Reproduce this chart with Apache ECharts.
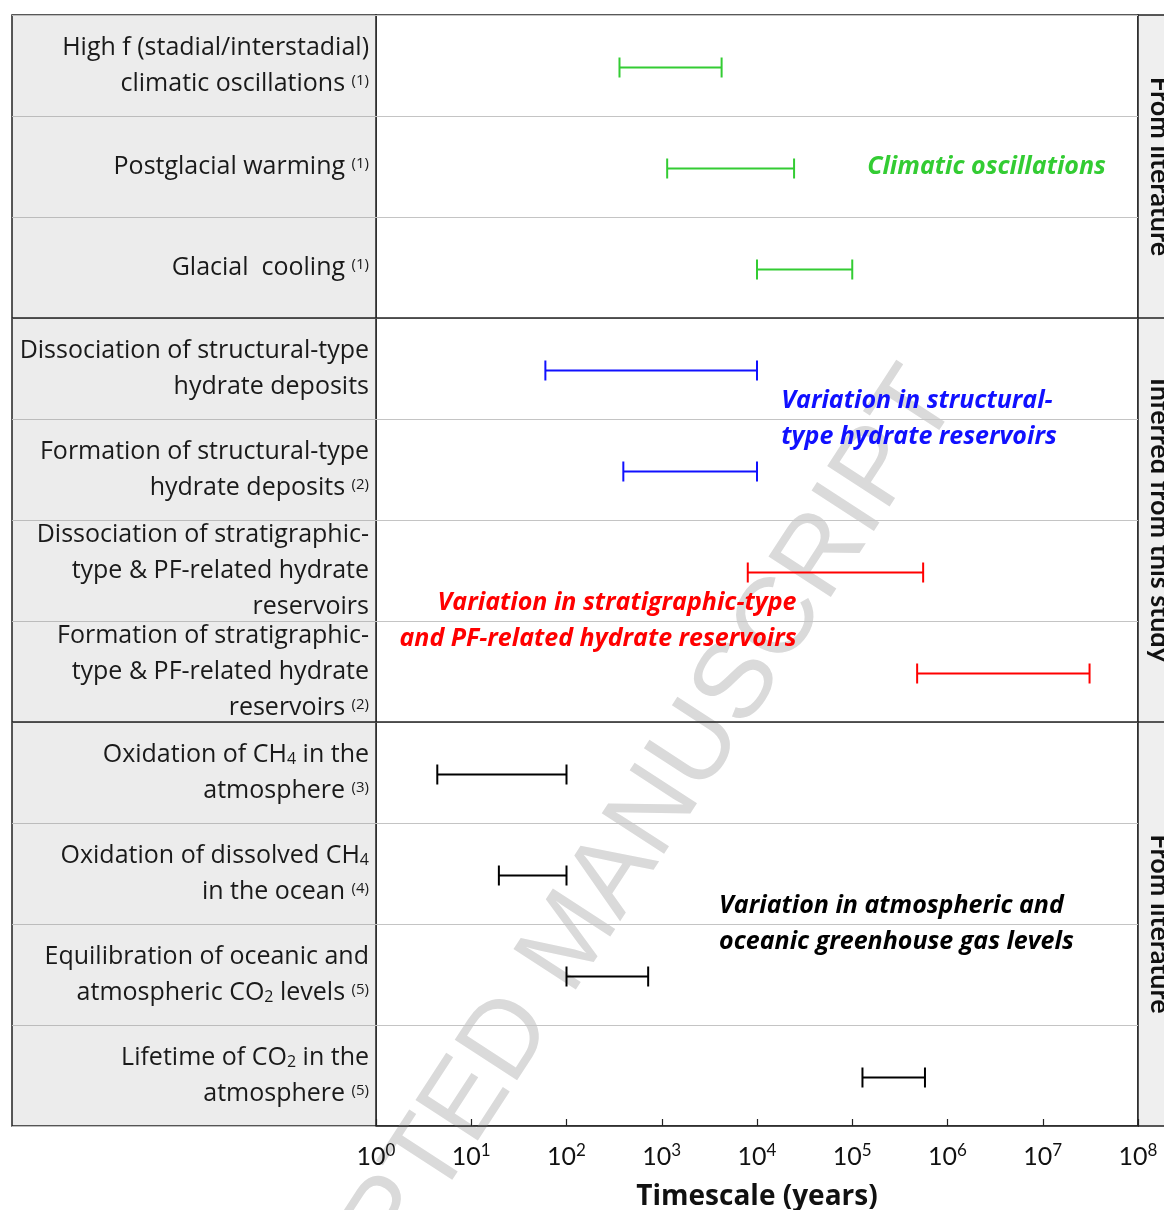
<!DOCTYPE html>
<html lang="en">
<head>
<meta charset="UTF-8">
<title>Timescales</title>
<script src="https://cdn.jsdelivr.net/npm/echarts@6/dist/echarts.min.js"></script>
<style>
  html, body { margin: 0; padding: 0; background: #fff; }
  #main { width: 1164px; height: 1210px; }
</style>
</head>
<body>
<div id="main"></div>
<script>
// rows (top to bottom)
var rowLabels = [
  'High f (stadial/interstadial)\nclimatic oscillations {sup|(1)}',
  'Postglacial warming {sup|(1)}',
  'Glacial  cooling {sup|(1)}',
  'Dissociation of structural-type\nhydrate deposits',
  'Formation of structural-type\nhydrate deposits {sup|(2)}',
  'Dissociation of stratigraphic-\ntype & PF-related hydrate\nreservoirs',
  'Formation of stratigraphic-\ntype & PF-related hydrate\nreservoirs {sup|(2)}',
  'Oxidation of CH{sub|4} in the\natmosphere {sup|(3)}',
  'Oxidation of dissolved CH{sub|4}\nin the ocean {sup|(4)}',
  'Equilibration of oceanic and\natmospheric CO{sub|2} levels {sup|(5)}',
  'Lifetime of CO{sub|2} in the\natmosphere {sup|(5)}'
];
// timescale ranges in years
var lowYears  = [360, 1140, 10000, 60, 395, 8000, 480000, 4.4, 19.5, 100, 128000];
var highYears = [4250, 24500, 100000, 10000, 10000, 555000, 31000000, 100, 100, 720, 580000];
var barColors = ['#33cc33', '#33cc33', '#33cc33', '#1010ff', '#1010ff', '#ff0000', '#ff0000',
                 '#000000', '#000000', '#000000', '#000000'];

// side band groups
var groupNames = ['From literature', 'Inferred from this study', 'From literature'];
var groupStart = [0, 3, 7];
var groupEnd   = [2, 6, 10];

// annotations
var noteText = ['Climatic oscillations',
                'Variation in structural-\ntype hydrate reservoirs',
                'Variation in stratigraphic-type\nand PF-related hydrate reservoirs',
                'Variation in atmospheric and\noceanic greenhouse gas levels'];
var noteYears = [4.6e7, 1.8e4, 2.6e4, 4000];
var noteRow   = [1, 3.5, 5.5, 8.5];
var noteAlign = ['right', 'left', 'right', 'left'];
var noteColor = ['#33cc33', '#1010ff', '#ff0000', '#000000'];

var FONT = '"Open Sans", Lato, sans-serif';
var TICKFONT = 'Lato, "Open Sans", sans-serif';
var PANEL_LEFT = 12, PANEL_W = 364, BAND_W = 40;

var chart = echarts.init(document.getElementById('main'));

function rowY(api, r) {
  var a = Math.floor(r), b = Math.ceil(r);
  var ya = api.coord([1, a])[1], yb = api.coord([1, b])[1];
  return ya + (yb - ya) * (r - a);
}

var option = {
  animation: false,
  backgroundColor: '#fff',
  grid: [
    { left: 376, right: 26, top: 15, bottom: 84, show: true, backgroundColor: '#fff',
      borderColor: '#222', borderWidth: 1.5, outerBoundsMode: 'none', containLabel: false },
    { left: PANEL_LEFT, width: PANEL_W, top: 15, bottom: 84, show: true, backgroundColor: '#ececec',
      borderColor: '#222', borderWidth: 1.5, outerBoundsMode: 'none' },
    { left: 1138, width: BAND_W, top: 15, bottom: 84, show: true, backgroundColor: '#efefef',
      borderColor: '#222', borderWidth: 1.5, outerBoundsMode: 'none' }
  ],
  xAxis: [
    { type: 'log', logBase: 10, min: 1, max: 1e8, gridIndex: 0, splitNumber: 8, z: 3,
      axisLine: { show: true, lineStyle: { color: '#222', width: 1.5 } },
      axisTick: { show: true, inside: true, length: 7, lineStyle: { color: '#222', width: 1.2 } },
      minorTick: { show: false },
      splitLine: { show: false },
      axisLabel: {
        margin: 16, fontFamily: TICKFONT, fontSize: 25, color: '#111', lineHeight: 30,
        formatter: function (v) { return '10{sup|' + Math.round(Math.log10(v)) + '}'; },
        rich: { sup: { fontFamily: TICKFONT, fontSize: 17, color: '#111', verticalAlign: 'top', lineHeight: 18 } }
      },
      name: 'Timescale (years)', nameLocation: 'middle', nameGap: 57,
      nameTextStyle: { fontFamily: FONT, fontSize: 28, fontWeight: 'bold', color: '#111' }
    },
    { type: 'value', gridIndex: 1, show: false, min: 0, max: 1 },
    { type: 'value', gridIndex: 2, show: false, min: 0, max: 1 }
  ],
  yAxis: [
    { type: 'category', gridIndex: 0, data: rowLabels, inverse: true, z: 3,
      axisLine: { show: false }, axisTick: { show: false },
      splitLine: { show: true, interval: 0, lineStyle: { color: '#c4c4c4', width: 1.2 } },
      axisLabel: {
        interval: 0, margin: 7, align: 'right', fontFamily: FONT, fontSize: 25, lineHeight: 36, color: '#1a1a1a',
        rich: {
          sup: { fontFamily: FONT, fontSize: 15, color: '#1a1a1a', verticalAlign: 'middle', lineHeight: 16, padding: [0, 0, 6, 0] },
          sub: { fontFamily: FONT, fontSize: 16, color: '#1a1a1a', verticalAlign: 'middle', lineHeight: 16, padding: [10, 0, 0, 0] }
        }
      }
    },
    { type: 'category', gridIndex: 1, data: rowLabels, inverse: true,
      axisLine: { show: false }, axisTick: { show: false }, axisLabel: { show: false },
      splitLine: { show: true, interval: 0, lineStyle: { color: '#bcbcbc', width: 1.2 } }
    },
    { type: 'category', gridIndex: 2, show: false, data: rowLabels }
  ],
  graphic: [
    { type: 'text', x: 935, y: 382, rotation: 57 * Math.PI / 180, z: 1, silent: true,
      style: { text: 'ACCEPTED MANUSCRIPT', fill: '#dadada', font: '108px "Liberation Sans", Arial, sans-serif',
               align: 'right', verticalAlign: 'middle' } }
  ],
  series: [
    {
      type: 'custom', name: 'ranges', xAxisIndex: 0, yAxisIndex: 0, z: 5, silent: true,
      data: lowYears.map(function (v, i) { return [v, highYears[i], i]; }),
      encode: { x: [0, 1], y: 2 },
      renderItem: function (params, api) {
        var i = api.value(2);
        var a = api.coord([api.value(0), i]);
        var b = api.coord([api.value(1), i]);
        var y = a[1] + 2, h = 10;
        var st = { stroke: barColors[i], lineWidth: 2 };
        return { type: 'group', children: [
          { type: 'line', shape: { x1: a[0], y1: y, x2: b[0], y2: y }, style: st },
          { type: 'line', shape: { x1: a[0], y1: y - h, x2: a[0], y2: y + h }, style: st },
          { type: 'line', shape: { x1: b[0], y1: y - h, x2: b[0], y2: y + h }, style: st }
        ] };
      }
    },
    {
      type: 'custom', name: 'notes', xAxisIndex: 0, yAxisIndex: 0, z: 6, silent: true, clip: false,
      data: noteText.map(function (t, i) { return [noteYears[i], i]; }),
      renderItem: function (params, api) {
        var k = params.dataIndex;
        var x = api.coord([noteYears[k], 0])[0];
        var y = rowY(api, noteRow[k]);
        return { type: 'text', x: x, y: y, style: {
          text: noteText[k], fill: noteColor[k], fontFamily: FONT, fontSize: 25,
          fontWeight: 'bold', fontStyle: 'italic', lineHeight: 36,
          align: noteAlign[k], verticalAlign: 'middle' } };
      }
    },
    {
      type: 'custom', name: 'groups', xAxisIndex: 0, yAxisIndex: 0, z: 7, silent: true, clip: false,
      data: groupNames.map(function (n, i) { return [1, i]; }),
      renderItem: function (params, api) {
        var k = params.dataIndex;
        var band = api.size([0, 1])[1];
        var top = api.coord([1, groupStart[k]])[1] - band / 2;
        var bot = api.coord([1, groupEnd[k]])[1] + band / 2;
        var right = params.coordSys.x + params.coordSys.width;
        var children = [
          { type: 'text', x: right + 22, y: (top + bot) / 2, rotation: -Math.PI / 2, style: {
            text: groupNames[k], fill: '#111', fontFamily: TICKFONT, fontSize: 27, fontWeight: 'bold',
            align: 'center', verticalAlign: 'middle' } }
        ];
        if (k < groupNames.length - 1) {
          children.push({ type: 'line', shape: { x1: PANEL_LEFT, y1: bot, x2: right + BAND_W, y2: bot },
            style: { stroke: '#222', lineWidth: 1.5 } });
        }
        return { type: 'group', children: children };
      }
    }
  ]
};

chart.setOption(option);
</script>
</body>
</html>
